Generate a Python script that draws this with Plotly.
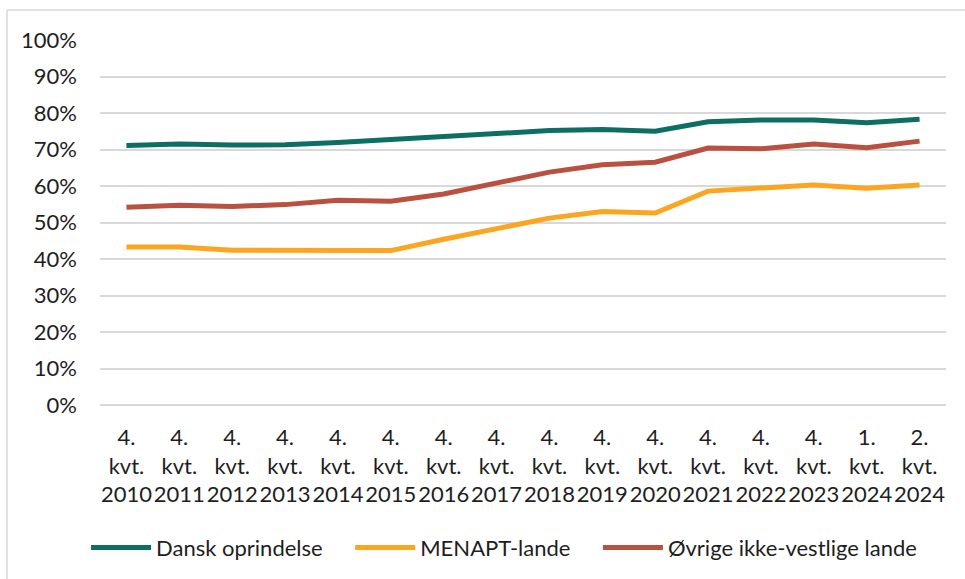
import plotly.graph_objects as go

categories = ["4.<br>kvt.<br>2010", "4.<br>kvt.<br>2011", "4.<br>kvt.<br>2012", "4.<br>kvt.<br>2013",
              "4.<br>kvt.<br>2014", "4.<br>kvt.<br>2015", "4.<br>kvt.<br>2016", "4.<br>kvt.<br>2017",
              "4.<br>kvt.<br>2018", "4.<br>kvt.<br>2019", "4.<br>kvt.<br>2020", "4.<br>kvt.<br>2021",
              "4.<br>kvt.<br>2022", "4.<br>kvt.<br>2023", "1.<br>kvt.<br>2024", "2.<br>kvt.<br>2024"]

dansk = [71.1, 71.5, 71.2, 71.3, 71.9, 72.8, 73.7, 74.6, 75.2, 75.5, 75.0, 77.6, 78.1, 78.1, 77.3, 78.3]
menapt = [43.3, 43.3, 42.4, 42.4, 42.3, 42.3, 45.4, 48.4, 51.2, 53.0, 52.6, 58.6, 59.4, 60.3, 59.4, 60.3]
ovrige = [54.2, 54.7, 54.4, 54.9, 56.1, 55.8, 57.8, 60.9, 63.8, 65.8, 66.5, 70.4, 70.2, 71.5, 70.5, 72.3]

series_names = ["Dansk oprindelse", "MENAPT-lande", "Øvrige ikke-vestlige lande"]
series_colors = ["#0D6E63", "#FBA520", "#BA5040"]

FONT = "Lato"
FS = 22
PAD = "\u00a0" * 4
fig = go.Figure()
for name, vals, col in zip(series_names, [dansk, menapt, ovrige], series_colors):
    fig.add_trace(go.Scatter(
        x=categories, y=[v / 100 for v in vals], name=name + PAD, mode="lines",
        line=dict(color=col, width=5),
    ))

W, H = 965, 579
L, R, T, B = 100, 19, 40, 174
pw, ph = W - L - R, H - T - B

fig.update_layout(
    width=W, height=H,
    margin=dict(l=L, r=R, t=T, b=B, autoexpand=False),
    paper_bgcolor="white", plot_bgcolor="white",
    font=dict(family=FONT, size=FS, color="#1e1e1e"),
    showlegend=True,
    legend=dict(orientation="h", x=-0.0165, xanchor="left", y=-0.391, yanchor="middle",
                font=dict(family=FONT, size=FS, color="#1e1e1e"),
                itemwidth=60, tracegroupgap=0, traceorder="normal",
                bgcolor="rgba(0,0,0,0)"),
    xaxis=dict(type="category", range=[-0.5, 15.5], showgrid=False, showline=False,
               zeroline=False, ticks="", ticklabelstandoff=17, automargin=False,
               tickangle=0,
               tickfont=dict(family=FONT, size=FS, color="#1e1e1e")),
    yaxis=dict(range=[0, 1.0], dtick=0.1, tickformat=".0%", showgrid=True,
               gridcolor="#D9D9D9", gridwidth=1.5, zeroline=True, zerolinecolor="#D9D9D9",
               zerolinewidth=1.5, showline=False, ticks="", ticklabelstandoff=22,
               automargin=False,
               tickfont=dict(family=FONT, size=FS, color="#1e1e1e")),
    shapes=[
        dict(type="line", xref="paper", yref="paper",
             x0=(7 - L) / pw, x1=(7 - L) / pw, y0=(T - 10) / ph + 1.0, y1=-1.0,
             line=dict(color="#D9D9D9", width=1.5)),
        dict(type="line", xref="paper", yref="paper",
             x0=(7 - L) / pw, x1=1.2, y0=(T - 10) / ph + 1.0, y1=(T - 10) / ph + 1.0,
             line=dict(color="#D9D9D9", width=1.5)),
    ],
)

fig.write_html("out.html", config={"displayModeBar": False},
               post_script="document.body.style.margin='0';document.body.style.padding='0';")
